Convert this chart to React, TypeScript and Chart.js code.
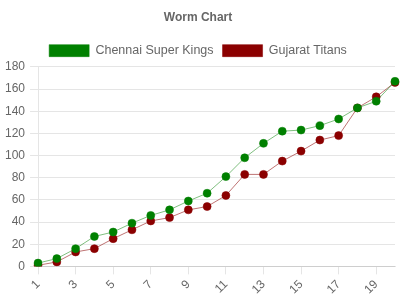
import React, { useEffect, useRef } from "react";
import { Chart, registerables } from "chart.js";

Chart.register(...registerables);

const overs = Array.from({ length: 20 }, (_, i) => String(i + 1));
const cskRuns = [3, 7, 16, 27, 31, 39, 46, 51, 59, 66, 81, 98, 111, 122, 123, 127, 133, 143, 149, 167];
const gtRuns = [1, 4, 13, 16, 25, 33, 41, 44, 51, 54, 64, 83, 83, 95, 104, 114, 118, 143, 153, 166];

export default function App() {
  const ref = useRef<HTMLCanvasElement>(null);
  useEffect(() => {
    if (!ref.current) return;
    const font = { family: "'Liberation Sans', Arial, sans-serif", size: 12 };
    const chart = new Chart(ref.current, {
      type: "line",
      data: {
        labels: overs,
        datasets: [
          {
            label: "Chennai Super Kings",
            data: cskRuns,
            backgroundColor: "#008000",
            borderColor: "rgba(0,128,0,0.5)",
            borderWidth: 1,
            pointRadius: 4,
            pointHoverRadius: 4,
            pointBackgroundColor: "#008000",
            pointBorderColor: "rgba(0,128,0,0.5)",
            pointBorderWidth: 1,
            fill: false,
            tension: 0,
          },
          {
            label: "Gujarat Titans",
            data: gtRuns,
            backgroundColor: "#8b0000",
            borderColor: "rgba(139,0,0,0.55)",
            borderWidth: 1,
            pointRadius: 4,
            pointHoverRadius: 4,
            pointBackgroundColor: "#8b0000",
            pointBorderColor: "rgba(139,0,0,0.55)",
            pointBorderWidth: 1,
            fill: false,
            tension: 0,
          },
        ],
      },
      options: {
        animation: false,
        responsive: true,
        maintainAspectRatio: false,
        layout: { padding: { left: 0, right: 4, top: 0, bottom: 0 } },
        plugins: {
          title: {
            display: true,
            text: "Worm Chart",
            color: "#666",
            font: { ...font, weight: "bold" },
            padding: { top: 10, bottom: 11 },
          },
          legend: {
            labels: {
              color: "#666",
              font: { ...font, size: 12.5 },
              boxWidth: 40,
              boxHeight: 12,
              padding: 9,
            },
          },
          tooltip: { enabled: false },
        },
        scales: {
          x: {
            ticks: { color: "#666", font, maxRotation: 45, minRotation: 45 },
            grid: { drawOnChartArea: false, color: "rgba(0,0,0,0.1)" },
            border: { color: "rgba(0,0,0,0.1)" },
          },
          y: {
            min: 0,
            max: 180,
            ticks: { color: "#666", font, stepSize: 20, padding: 5 },
            grid: { color: "rgba(0,0,0,0.1)" },
            border: { color: "rgba(0,0,0,0.1)" },
          },
        },
      },
    });
    return () => chart.destroy();
  }, []);
  return (
    <div style={{ position: "fixed", left: 0, top: 0, width: 400, height: 300 }}>
      <canvas ref={ref} />
    </div>
  );
}
